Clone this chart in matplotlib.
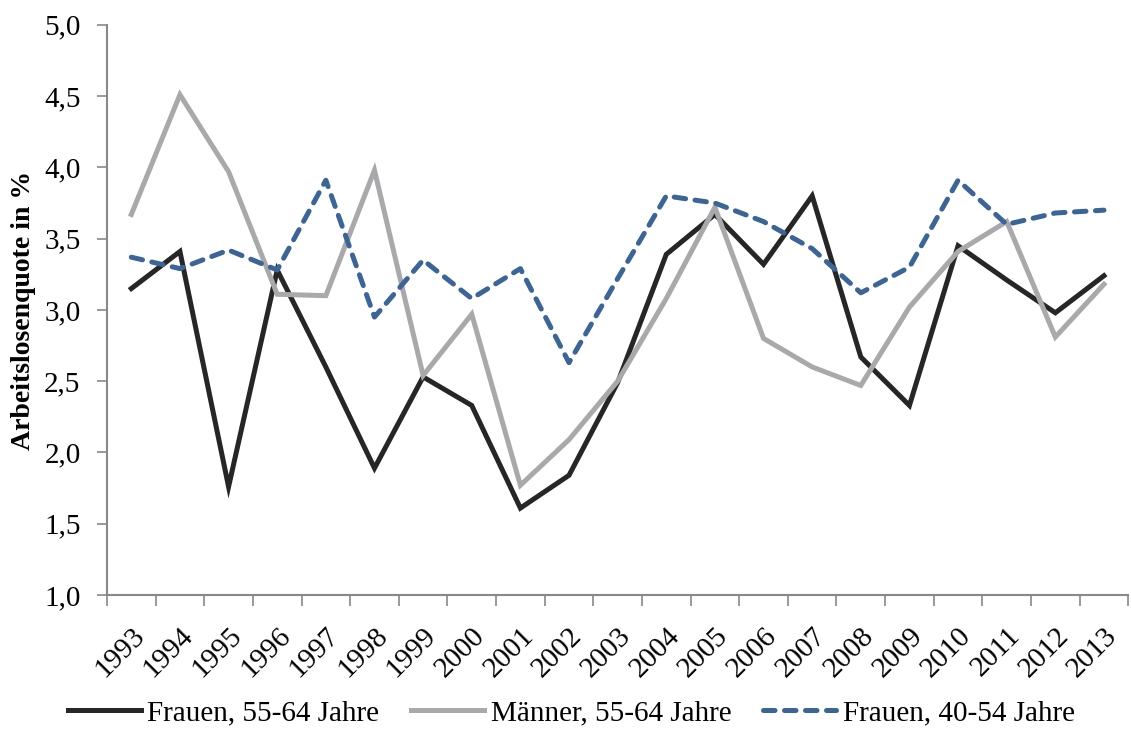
import numpy as np
import matplotlib.pyplot as plt
from matplotlib.ticker import FixedLocator

years = list(range(1993, 2014))

frauen_55_64 = [3.15, 3.41, 1.76, 3.28, 2.60, 1.89, 2.53, 2.33, 1.61, 1.84, 2.49,
                3.39, 3.67, 3.32, 3.80, 2.67, 2.33, 3.45, 3.21, 2.98, 3.24]
maenner_55_64 = [3.67, 4.51, 3.97, 3.11, 3.10, 3.98, 2.54, 2.97, 1.77, 2.09, 2.50,
                 3.08, 3.72, 2.80, 2.60, 2.47, 3.02, 3.41, 3.62, 2.81, 3.18]
frauen_40_54 = [3.37, 3.29, 3.42, 3.28, 3.91, 2.95, 3.35, 3.08, 3.29, 2.63, 3.22,
                3.80, 3.75, 3.62, 3.43, 3.12, 3.30, 3.91, 3.60, 3.68, 3.70]
y_ticks = [1.0, 1.5, 2.0, 2.5, 3.0, 3.5, 4.0, 4.5, 5.0]

plt.rcParams["font.family"] = ["Liberation Serif", "DejaVu Serif"]

fig = plt.figure(figsize=(11.31, 7.31), dpi=100)
ax = fig.add_axes([0.0946, 0.186, 0.903, 0.780])

x = np.arange(len(years))
ax.plot(x, frauen_55_64, color="#262626", lw=3.6, solid_joinstyle="miter",
        label="Frauen, 55-64 Jahre")
ax.plot(x, maenner_55_64, color="#A9A9AC", lw=3.6, solid_joinstyle="miter",
        label="Männer, 55-64 Jahre")
ax.plot(x, frauen_40_54, color="#3B6497", lw=3.6, linestyle=(0, (2.3, 1.9)),
        dash_capstyle="round", label="Frauen, 40-54 Jahre")

ax.set_xlim(-0.5, len(years) - 0.5)
ax.set_ylim(1.0, 5.0)
ax.set_yticks(y_ticks)
ax.set_yticklabels([f"{v:.1f}".replace(".", ",") for v in y_ticks])
ax.set_xticks(x)
ax.set_xticklabels([str(y) for y in years], rotation=45, ha="right",
                   rotation_mode="anchor")
ax.xaxis.set_minor_locator(FixedLocator(np.arange(-0.5, len(years), 1.0)))
ax.tick_params(axis="x", which="major", length=0, labelsize=21, pad=20)
ax.tick_params(axis="x", which="minor", length=8, color="#888888", width=1.2)
ax.tick_params(axis="y", length=7, color="#888888", width=1.2, labelsize=21, pad=12)

for side in ["top", "right"]:
    ax.spines[side].set_visible(False)
for side in ["left", "bottom"]:
    ax.spines[side].set_color("#888888")
    ax.spines[side].set_linewidth(1.5)

ax.set_ylabel("Arbeitslosenquote in %", fontsize=20, fontweight="bold", labelpad=6)

fig.legend(loc="lower center", bbox_to_anchor=(0.505, -0.03), ncol=3, frameon=False,
           fontsize=21, handlelength=2.5, columnspacing=1.1, handletextpad=0.22)

fig.savefig("out.png", dpi=100)
